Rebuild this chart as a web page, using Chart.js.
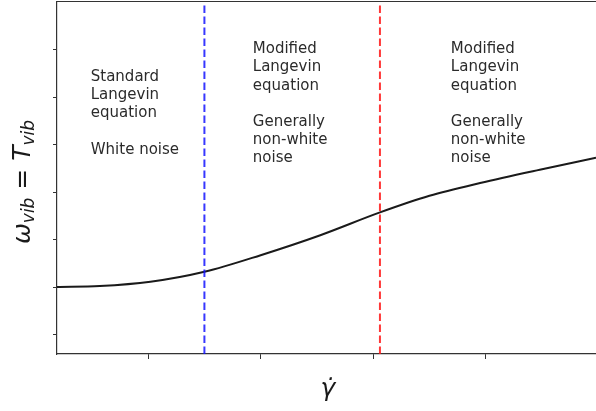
<!DOCTYPE html>
<html>
<head>
<meta charset="utf-8">
<script src="https://cdn.jsdelivr.net/npm/chart.js@4/dist/chart.umd.min.js"></script>
<style>
  html, body { margin: 0; padding: 0; background: #fff; overflow: hidden; }
  #c { display: block; }
</style>
</head>
<body>
<canvas id="c" width="596" height="411"></canvas>
<script>
// ---- data ----
const xTicks = [1, 2, 3, 4];
const yTicks = [1, 2, 3, 4, 5, 6, 7];
const curveX = [0.19, 0.57, 1.02, 1.50, 2.00, 2.53, 3.06, 3.50, 3.95, 4.48, 4.98];
const curveY = [2.01, 2.03, 2.12, 2.33, 2.68, 3.10, 3.58, 3.93, 4.20, 4.48, 4.73];
const blueLineX = 1.5;
const redLineX = 3.06;
const xRange = [0.19, 4.98];
const yRange = [0.6, 8.02];
const regionTexts = [
  ["Standard", "Langevin", "equation", "", "White noise"],
  ["Modified", "Langevin", "equation", "", "Generally", "non-white", "noise"],
  ["Modified", "Langevin", "equation", "", "Generally", "non-white", "noise"]
];
const regionTextX = [0.49, 1.93, 3.69];
const regionTextY = [6.35, 6.93, 6.93];

const FONT = '"DejaVu Sans", "Liberation Sans", sans-serif';

const labelsPlugin = {
  id: 'labels',
  afterDraw(chart) {
    const ctx = chart.ctx;
    const xs = chart.scales.x, ys = chart.scales.y;
    const ca = chart.chartArea;
    ctx.save();
    // top spine
    ctx.strokeStyle = '#333';
    ctx.lineWidth = 1.2;
    ctx.beginPath();
    ctx.moveTo(ca.left, ca.top);
    ctx.lineTo(ca.right, ca.top);
    ctx.stroke();

    // region annotations
    ctx.fillStyle = '#2b2b2b';
    ctx.font = '15px ' + FONT;
    ctx.textAlign = 'left';
    ctx.textBaseline = 'alphabetic';
    regionTexts.forEach((lines, i) => {
      const px = xs.getPixelForValue(regionTextX[i]);
      const py = ys.getPixelForValue(regionTextY[i]);
      lines.forEach((ln, j) => {
        if (ln) ctx.fillText(ln, px, py + j * 18.2);
      });
    });

    // y-axis label: omega_vib = T_vib
    ctx.fillStyle = '#1a1a1a';
    const segs = [
      { t: 'ω', f: 'italic 25px ' + FONT, dy: 0 },
      { t: 'vib', f: 'italic 17px ' + FONT, dy: 4 },
      { t: ' = ', f: '25px ' + FONT, dy: 0 },
      { t: 'T', f: 'italic 25px ' + FONT, dy: 0 },
      { t: 'vib', f: 'italic 17px ' + FONT, dy: 4 }
    ];
    let total = 0;
    segs.forEach(s => { ctx.font = s.f; s.w = ctx.measureText(s.t).width; total += s.w; });
    ctx.save();
    ctx.translate(30, 182);
    ctx.rotate(-Math.PI / 2);
    let cx = -total / 2;
    segs.forEach(s => { ctx.font = s.f; ctx.fillText(s.t, cx, s.dy); cx += s.w; });
    ctx.restore();

    // x-axis label: gamma dot
    ctx.font = 'italic 25px ' + FONT;
    ctx.textAlign = 'center';
    ctx.fillText('γ̇', 328, 396);
    ctx.restore();
  }
};

const pts = curveX.map((x, i) => ({ x: x, y: curveY[i] }));

new Chart(document.getElementById('c'), {
  type: 'line',
  data: {
    datasets: [
      {
        data: [{ x: blueLineX, y: yRange[0] }, { x: blueLineX, y: yRange[1] }],
        borderColor: 'rgba(20,20,255,0.85)',
        borderWidth: 2,
        borderDash: [7.5, 3.5],
        pointRadius: 0
      },
      {
        data: [{ x: redLineX, y: yRange[0] }, { x: redLineX, y: yRange[1] }],
        borderColor: 'rgba(255,20,20,0.85)',
        borderWidth: 2,
        borderDash: [7.5, 3.5],
        pointRadius: 0
      },
      {
        data: pts,
        borderColor: '#1a1a1a',
        borderWidth: 2,
        pointRadius: 0,
        cubicInterpolationMode: 'monotone'
      }
    ]
  },
  options: {
    responsive: false,
    animation: false,
    devicePixelRatio: 1,
    layout: { padding: { top: 1.5, right: 0, bottom: 0, left: 0 } },
    plugins: { legend: { display: false }, tooltip: { enabled: false } },
    scales: {
      x: {
        type: 'linear',
        min: xRange[0], max: xRange[1],
        afterBuildTicks: s => { s.ticks = xTicks.map(v => ({ value: v })); },
        afterFit: s => { s.height = 57; },
        ticks: { display: false },
        grid: { drawOnChartArea: false, drawTicks: true, tickLength: 5, color: '#333', lineWidth: 1 },
        border: { color: '#333', width: 1.2 }
      },
      y: {
        type: 'linear',
        min: yRange[0], max: yRange[1],
        afterBuildTicks: s => { s.ticks = yTicks.map(v => ({ value: v })); },
        afterFit: s => { s.width = 57; },
        ticks: { display: false },
        grid: { drawOnChartArea: false, drawTicks: true, tickLength: 4, color: '#333', lineWidth: 1 },
        border: { color: '#333', width: 1.2 }
      }
    }
  },
  plugins: [labelsPlugin]
});
</script>
</body>
</html>
